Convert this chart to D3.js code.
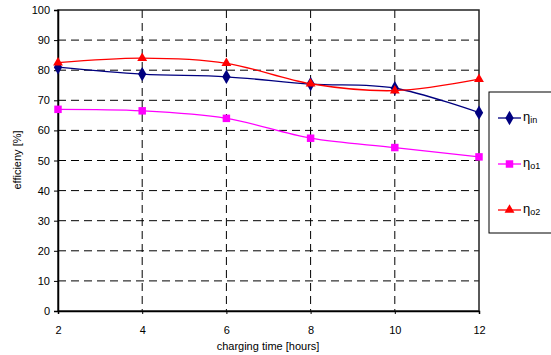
<!DOCTYPE html>
<html lang="en">
<head>
    <meta charset="UTF-8">
    <title>efficiency</title>
    <script src="https://cdn.jsdelivr.net/npm/d3@7"></script>
    <style>
        body { margin: 0; background: #fff; }
        text { font-family: "Liberation Sans", Arial, sans-serif; fill: #000; }
        .grid line { stroke: #000; stroke-dasharray: 8,5; stroke-width: 1; }
    </style>
</head>
<body>
<script>
    let hours = [2, 4, 6, 8, 10, 12];
    let etaIn = [81, 78.7, 77.8, 75.4, 74, 65.9];
    let etaO1 = [67, 66.5, 64, 57.4, 54.3, 51.2];
    let etaO2 = [82.5, 84, 82.3, 75.5, 73.2, 77];
    let yTicks = d3.range(0, 101, 10);

    let series = [
        {name: 'in', values: etaIn, color: '#000080', symbol: d3.symbolDiamond, size: 60, ly: 118},
        {name: 'o1', values: etaO1, color: '#ff00ff', symbol: d3.symbolSquare, size: 56, ly: 164},
        {name: 'o2', values: etaO2, color: '#ff0000', symbol: d3.symbolTriangle, size: 42, ly: 210}
    ];

    let w = 551, h = 355;
    let pl = 58, pr = 479, pt = 10, pb = 311;

    let x = d3.scaleLinear().domain([2, 12]).range([pl, pr]);
    let y = d3.scaleLinear().domain([0, 100]).range([pb, pt]);

    let svg = d3.select('body').append('svg')
        .attr('width', w).attr('height', h);

    // grid
    let grid = svg.append('g').attr('class', 'grid');
    grid.selectAll('.gy').data(yTicks.slice(1, -1)).enter().append('line')
        .attr('x1', pl).attr('x2', pr)
        .attr('y1', d => y(d)).attr('y2', d => y(d));
    grid.selectAll('.gx').data(hours.slice(1, -1)).enter().append('line')
        .attr('y1', pt).attr('y2', pb)
        .attr('x1', d => x(d)).attr('x2', d => x(d));

    // frame
    svg.append('rect')
        .attr('x', pl).attr('y', pt)
        .attr('width', pr - pl).attr('height', pb - pt)
        .attr('fill', 'none').attr('stroke', '#222').attr('stroke-width', 1.5);

    // axes
    let yAxis = svg.append('g')
        .attr('transform', 'translate(' + pl + ',0)')
        .call(d3.axisLeft(y).tickValues(yTicks).tickSize(4).tickPadding(4));
    let xAxis = svg.append('g')
        .attr('transform', 'translate(0,' + pb + ')')
        .call(d3.axisBottom(x).tickValues(hours).tickSize(3).tickPadding(12));
    [yAxis, xAxis].forEach(a => {
        a.select('.domain').attr('stroke', '#000').attr('stroke-width', 1.5);
        a.selectAll('.tick line').attr('stroke', '#000');
        a.selectAll('text').attr('font-size', 11).attr('font-family', '"Liberation Sans", Arial, sans-serif');
    });

    svg.append('text')
        .attr('x', 268).attr('y', 350)
        .attr('text-anchor', 'middle').attr('font-size', 11)
        .text('charging time [hours]');
    svg.append('text')
        .attr('transform', 'translate(21,160) rotate(-90)')
        .attr('text-anchor', 'middle').attr('font-size', 11)
        .text('efficieny [%]');

    // lines
    let line = d3.line()
        .x((d, i) => x(hours[i]))
        .y(d => y(d))
        .curve(d3.curveCardinal.tension(0));

    series.forEach(s => {
        svg.append('path')
            .attr('d', line(s.values))
            .attr('fill', 'none')
            .attr('stroke', s.color)
            .attr('stroke-width', 1.3);
        svg.selectAll('.m' + s.name).data(s.values).enter().append('path')
            .attr('transform', (d, i) => 'translate(' + x(hours[i]) + ',' + y(d) + ')')
            .attr('d', d3.symbol().type(s.symbol).size(s.size))
            .attr('fill', s.color);
    });

    // legend
    svg.append('rect')
        .attr('x', 489).attr('y', 92)
        .attr('width', 70).attr('height', 141)
        .attr('fill', '#fff').attr('stroke', '#000').attr('stroke-width', 1);

    series.forEach(s => {
        let g = svg.append('g');
        g.append('line')
            .attr('x1', 498).attr('x2', 521)
            .attr('y1', s.ly).attr('y2', s.ly)
            .attr('stroke', s.color).attr('stroke-width', 1.3);
        g.append('path')
            .attr('transform', 'translate(509.5,' + s.ly + ')')
            .attr('d', d3.symbol().type(s.symbol).size(s.size))
            .attr('fill', s.color);
        let t = g.append('text')
            .attr('x', 523).attr('y', s.ly + 3)
            .attr('font-size', 13);
        t.append('tspan').text('η');
        t.append('tspan').attr('dy', 2).attr('font-size', 9).text(s.name);
    });
</script>
</body>
</html>
